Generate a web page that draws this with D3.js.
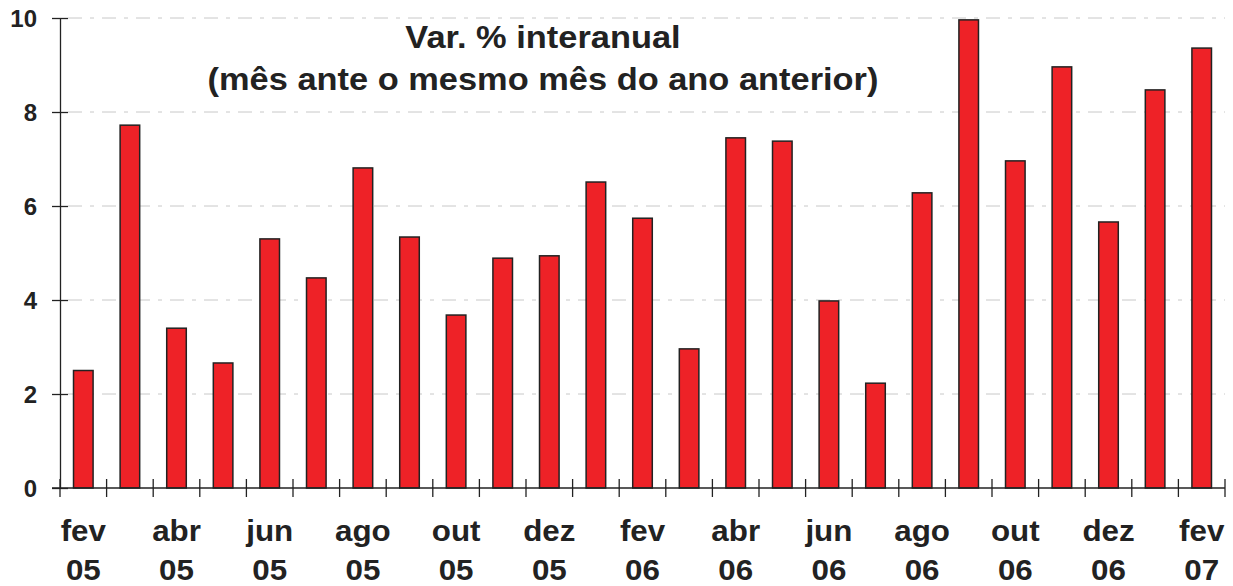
<!DOCTYPE html>
<html>
<head>
<meta charset="utf-8">
<script src="https://cdn.jsdelivr.net/npm/d3@7"></script>
<style>
  body { margin: 0; background: #fff; }
  text { font-family: "Liberation Sans", Arial, sans-serif; font-weight: bold; fill: #222; }
</style>
</head>
<body>
<div id="chart"></div>
<script>
var months = ["fev 05","mar 05","abr 05","mai 05","jun 05","jul 05","ago 05","set 05","out 05","nov 05","dez 05","jan 06",
              "fev 06","mar 06","abr 06","mai 06","jun 06","jul 06","ago 06","set 06","out 06","nov 06","dez 06","jan 07","fev 07"];
var values = [2.5, 7.72, 3.4, 2.66, 5.3, 4.47, 6.81, 5.34, 3.68, 4.89, 4.94, 6.51,
              5.74, 2.96, 7.45, 7.38, 3.98, 2.23, 6.28, 9.96, 6.96, 8.96, 5.66, 8.47, 9.36];
var yTicks = [0, 2, 4, 6, 8, 10];
var titleLines = ["Var. % interanual", "(mês ante o mesmo mês do ano anterior)"];

var width = 1233, height = 586;
var mLeft = 60, mRight = 1225, mTop = 18, mBottom = 488;

var svg = d3.select("#chart").append("svg")
    .attr("width", width)
    .attr("height", height);

var x = d3.scaleBand()
    .domain(months)
    .range([mLeft, mRight])
    .paddingInner(0.58)
    .paddingOuter(0.29);

var xb = d3.scaleBand().domain(months).range([mLeft, mRight]);

var y = d3.scaleLinear()
    .domain([0, 10])
    .range([mBottom, mTop]);

// grid
svg.selectAll(".grid")
    .data(yTicks.filter(function(d) { return d > 0; }))
    .enter().append("line")
    .attr("x1", mLeft + 8).attr("x2", mRight)
    .attr("y1", function(d) { return y(d); })
    .attr("y2", function(d) { return y(d); })
    .attr("stroke", "#c8c8c8")
    .attr("stroke-width", 1)
    .attr("stroke-dasharray", "14,8,4,8");

// bars
svg.selectAll(".bar")
    .data(values)
    .enter().append("rect")
    .attr("class", "bar")
    .attr("x", function(d, i) { return x(months[i]); })
    .attr("y", function(d) { return y(d); })
    .attr("width", x.bandwidth())
    .attr("height", function(d) { return mBottom - y(d); })
    .attr("fill", "#ee2227")
    .attr("stroke", "#222")
    .attr("stroke-width", 1.5);

// y axis
var yAxis = svg.append("g")
    .attr("transform", "translate(" + mLeft + ",0)")
    .call(d3.axisLeft(y).tickValues(yTicks).tickSizeInner(8).tickSizeOuter(0).tickPadding(8));
yAxis.select(".domain").attr("stroke", "#222").attr("stroke-width", 1.3);
yAxis.selectAll(".tick line").attr("x2", 8).attr("x1", -8).attr("stroke", "#222").attr("stroke-width", 1.3);
yAxis.selectAll(".tick text")
    .attr("x", -23)
    .attr("dy", "0.36em")
    .style("font-size", "24px")
    .style("font-family", "Liberation Sans, Arial, sans-serif")
    .style("font-weight", "bold")
    .attr("fill", "#222");

// x axis line
svg.append("line")
    .attr("x1", mLeft - 8).attr("x2", mRight)
    .attr("y1", mBottom).attr("y2", mBottom)
    .attr("stroke", "#222").attr("stroke-width", 1.3);

// x ticks at band boundaries
var bounds = months.map(function(m) { return xb(m); }).concat([mRight]);
svg.selectAll(".xtick")
    .data(bounds)
    .enter().append("line")
    .attr("x1", function(d) { return d; })
    .attr("x2", function(d) { return d; })
    .attr("y1", mBottom - 9).attr("y2", mBottom + 9)
    .attr("stroke", "#222").attr("stroke-width", 1.3);

// x labels (slightly widened, like the original)
var lab = svg.selectAll(".xlab")
    .data(months.filter(function(d, i) { return i % 2 === 0; }))
    .enter().append("g")
    .attr("transform", function(d) {
        return "translate(" + (xb(d) + xb.bandwidth() / 2) + ",0) scale(1.08,1)";
    })
    .append("text")
    .attr("text-anchor", "middle")
    .style("font-size", "29px");
lab.append("tspan")
    .attr("x", 0)
    .attr("y", 541)
    .text(function(d) { return d.split(" ")[0]; });
lab.append("tspan")
    .attr("x", 0)
    .attr("y", 580)
    .text(function(d) { return d.split(" ")[1]; });

// title
svg.selectAll(".title")
    .data(titleLines)
    .enter().append("g")
    .attr("transform", "translate(543,0) scale(1.075,1)")
    .append("text")
    .attr("x", 0)
    .attr("y", function(d, i) { return 48 + i * 42; })
    .attr("text-anchor", "middle")
    .style("font-size", "32px")
    .text(function(d) { return d; });
</script>
</body>
</html>
